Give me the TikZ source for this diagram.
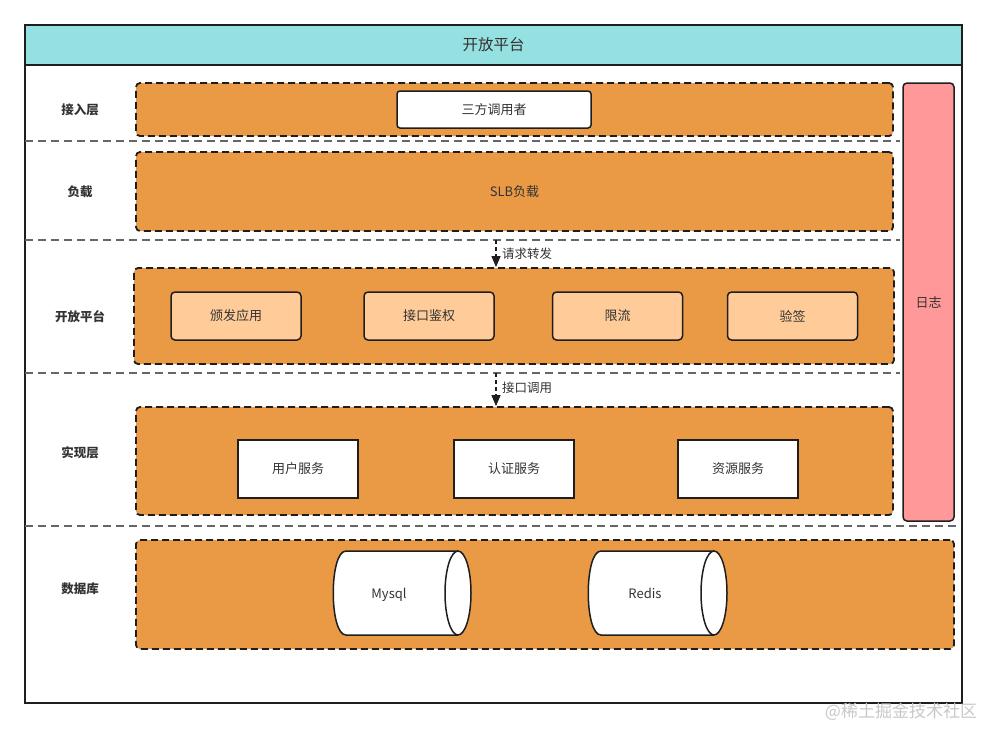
\documentclass[tikz,border=0pt]{standalone}
\usepackage{fontspec}
\setmainfont{Noto Sans CJK SC}
\usetikzlibrary{arrows.meta}
\definecolor{orangeF}{HTML}{EA9A45}
\definecolor{peachF}{HTML}{FFCC99}
\definecolor{pinkF}{HTML}{FF9999}
\definecolor{headF}{HTML}{95E0E0}
\definecolor{txt}{HTML}{333333}
\definecolor{edge}{HTML}{1E1E1E}
\definecolor{wm}{HTML}{C8C8C8}
\begin{document}
\begin{tikzpicture}[x=1pt,y=-1pt,
  every node/.style={text=txt, inner sep=0pt},
  layer/.style={draw=edge, fill=orangeF, line width=1.8pt, dash pattern=on 7pt off 4pt, rounded corners=4pt},
  lbl/.style={font=\fontsize{12.5}{14}\selectfont\bfseries},
  wbox/.style={draw=edge, fill=white, line width=1.5pt, rounded corners=3pt, font=\fontsize{13}{15}\selectfont},
  pbox/.style={draw=edge, fill=peachF, line width=1.5pt, rounded corners=4pt, minimum width=130pt, minimum height=48pt, font=\fontsize{13}{15}\selectfont},
  sbox/.style={draw=edge, fill=white, line width=1.5pt, minimum width=120pt, minimum height=58pt, font=\fontsize{13}{15}\selectfont},
  sepline/.style={draw=black!60, line width=1.2pt, dash pattern=on 8pt off 5pt},
  flow/.style={draw=edge, line width=1.2pt, dash pattern=on 4pt off 3pt, -{Triangle[length=11pt,width=9pt]}},
  flowlbl/.style={anchor=west, font=\fontsize{12.5}{14}\selectfont},
  cyl/.style={draw=edge, fill=white, line width=1.5pt},
  cyllbl/.style={anchor=base, font=\fontsize{13}{15}\selectfont}
]
\useasboundingbox (0,0) rectangle (987,729);
% outer frame and header
\node[draw=edge, line width=2pt, minimum width=937pt, minimum height=678pt] (frame) at (493.5,364) {};
\node[draw=edge, fill=headF, line width=2pt, minimum width=937pt, minimum height=40pt, font=\fontsize{15.5}{17}\selectfont] (head) at (493.5,45) {开放平台};
% separators
\draw[sepline] (25,141) -- (900,141);
\draw[sepline] (25,240) -- (900,240);
\draw[sepline] (25,373) -- (900,373);
\draw[sepline] (25,526) -- (961,526);
% layer labels
\node[lbl] (l1) at (80,110) {接入层};
\node[lbl] (l2) at (80,192) {负载};
\node[lbl] (l3) at (80,317) {开放平台};
\node[lbl] (l4) at (80,453) {实现层};
\node[lbl] (l5) at (80,589) {数据库};
% layer boxes
\node[layer, minimum width=757pt, minimum height=53pt] (r1) at (514.5,109.5) {};
\node[layer, minimum width=757pt, minimum height=79pt, font=\fontsize{13}{15}\selectfont] (r2) at (514.5,191.5) {SLB负载};
\node[layer, minimum width=760pt, minimum height=96pt] (r3) at (514,316) {};
\node[layer, minimum width=757pt, minimum height=108pt] (r4) at (514.5,461) {};
\node[layer, minimum width=818pt, minimum height=109pt] (r5) at (545,594.5) {};
% log
\node[draw=edge, fill=pinkF, line width=1.5pt, rounded corners=4pt, minimum width=51pt, minimum height=438pt, font=\fontsize{13}{15}\selectfont] (log) at (928.5,302) {日志};
% access layer
\node[wbox, minimum width=194pt, minimum height=37pt] (caller) at (494,109.5) {三方调用者};
% open platform
\node[pbox] (p1) at (236,316) {颁发应用};
\node[pbox] (p2) at (429,316) {接口鉴权};
\node[pbox] (p3) at (617.5,316) {限流};
\node[pbox] (p4) at (792.5,316) {验签};
% services
\node[sbox] (s1) at (298,469) {用户服务};
\node[sbox] (s2) at (514,469) {认证服务};
\node[sbox] (s3) at (738,469) {资源服务};
% cylinders
\draw[cyl] (458,551) -- (346,551) .. controls (329,551) and (329,635) .. (346,635) -- (458,635);
\draw[cyl] (458,593) ellipse [x radius=13, y radius=42];
\draw[cyl] (714,551) -- (601,551) .. controls (584,551) and (584,635) .. (601,635) -- (714,635);
\draw[cyl] (714,593) ellipse [x radius=13, y radius=42];
\node[cyllbl] (mysql) at (389,598.5) {Mysql};
\node[cyllbl] (redis) at (645,598.5) {Redis};
% flows
\coordinate (a1) at (496,240);
\coordinate (a2) at (496,373);
\draw[flow] (a1) -- (a1 |- r3.north);
\draw[flow] (a2) -- (a2 |- r4.north);
\node[flowlbl] (f1) at (502,254) {请求转发};
\node[flowlbl] (f2) at (502,388) {接口调用};
% watermark
\node[text=wm, font=\fontsize{17}{19}\selectfont] (wmk) at (901,712) {@稀土掘金技术社区};
\end{tikzpicture}
\end{document}
